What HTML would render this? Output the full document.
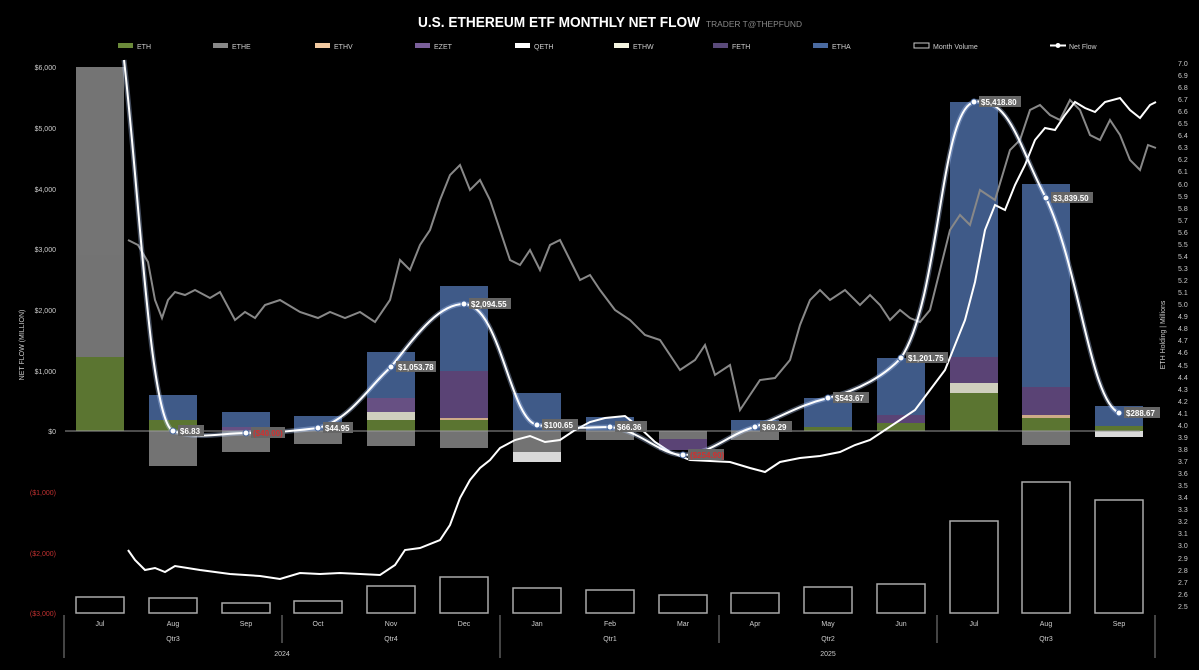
<!DOCTYPE html><html><head><style>body{margin:0;background:#000}svg{display:block;font-family:"Liberation Sans",sans-serif}</style></head><body>
<svg width="1199" height="670" viewBox="0 0 1199 670" xmlns="http://www.w3.org/2000/svg">
<rect width="1199" height="670" fill="#000"/>
<text x="418" y="27" fill="#fff" font-size="15" font-weight="bold" textLength="282" lengthAdjust="spacingAndGlyphs">U.S. ETHEREUM ETF MONTHLY NET FLOW</text>
<text x="706" y="27" fill="#888" font-size="8" textLength="96" lengthAdjust="spacingAndGlyphs">TRADER T@THEPFUND</text>
<g font-size="7" fill="#ccc">
<rect x="118" y="43" width="15" height="5" fill="#6b8a3a"/><text x="137" y="49">ETH</text>
<rect x="213" y="43" width="15" height="5" fill="#888"/><text x="232" y="49">ETHE</text>
<rect x="315" y="43" width="15" height="5" fill="#f2c9a0"/><text x="334" y="49">ETHV</text>
<rect x="415" y="43" width="15" height="5" fill="#7a5f9a"/><text x="434" y="49">EZET</text>
<rect x="515" y="43" width="15" height="5" fill="#fff"/><text x="534" y="49">QETH</text>
<rect x="614" y="43" width="15" height="5" fill="#f4f4e0"/><text x="633" y="49">ETHW</text>
<rect x="713" y="43" width="15" height="5" fill="#5a4a7a"/><text x="732" y="49">FETH</text>
<rect x="813" y="43" width="15" height="5" fill="#4a6aa0"/><text x="832" y="49">ETHA</text>
<rect x="914" y="43" width="15" height="5" fill="none" stroke="#ccc"/><text x="933" y="49">Month Volume</text>
<line x1="1050" y1="45.5" x2="1066" y2="45.5" stroke="#fff" stroke-width="2"/><circle cx="1058" cy="45.5" r="2.5" fill="#fff"/><text x="1069" y="49">Net Flow</text>
</g>
<g font-size="7" fill="#ccc" text-anchor="end">
<text x="56" y="70">$6,000</text><text x="56" y="131">$5,000</text><text x="56" y="192">$4,000</text><text x="56" y="252">$3,000</text><text x="56" y="313">$2,000</text><text x="56" y="374">$1,000</text><text x="56" y="434">$0</text>
<g fill="#c03030"><text x="56" y="495">($1,000)</text><text x="56" y="556">($2,000)</text><text x="56" y="616">($3,000)</text></g>
</g>
<text transform="translate(24,345) rotate(-90)" fill="#ccc" font-size="7" text-anchor="middle">NET FLOW (MILLION)</text>
<text transform="translate(1165,335) rotate(-90)" fill="#ccc" font-size="7" text-anchor="middle">ETH Holding | Millions</text>
<g font-size="7" fill="#ccc">
<text x="1178" y="66">7.0</text><text x="1178" y="78">6.9</text><text x="1178" y="90">6.8</text><text x="1178" y="102">6.7</text><text x="1178" y="114">6.6</text><text x="1178" y="126">6.5</text><text x="1178" y="138">6.4</text><text x="1178" y="150">6.3</text><text x="1178" y="162">6.2</text><text x="1178" y="174">6.1</text><text x="1178" y="187">6.0</text><text x="1178" y="199">5.9</text><text x="1178" y="211">5.8</text><text x="1178" y="223">5.7</text><text x="1178" y="235">5.6</text><text x="1178" y="247">5.5</text><text x="1178" y="259">5.4</text><text x="1178" y="271">5.3</text><text x="1178" y="283">5.2</text><text x="1178" y="295">5.1</text><text x="1178" y="307">5.0</text><text x="1178" y="319">4.9</text><text x="1178" y="331">4.8</text><text x="1178" y="343">4.7</text><text x="1178" y="355">4.6</text><text x="1178" y="368">4.5</text><text x="1178" y="380">4.4</text><text x="1178" y="392">4.3</text><text x="1178" y="404">4.2</text><text x="1178" y="416">4.1</text><text x="1178" y="428">4.0</text><text x="1178" y="440">3.9</text><text x="1178" y="452">3.8</text><text x="1178" y="464">3.7</text><text x="1178" y="476">3.6</text><text x="1178" y="488">3.5</text><text x="1178" y="500">3.4</text><text x="1178" y="512">3.3</text><text x="1178" y="524">3.2</text><text x="1178" y="536">3.1</text><text x="1178" y="548">3.0</text><text x="1178" y="561">2.9</text><text x="1178" y="573">2.8</text><text x="1178" y="585">2.7</text><text x="1178" y="597">2.6</text><text x="1178" y="609">2.5</text>
</g>
<g opacity="0.85">
<rect x="76" y="357" width="48" height="74" fill="#6b8a3a"/><rect x="76" y="67" width="48" height="290" fill="#888"/>
<rect x="149" y="395" width="48" height="25" fill="#4a6aa0"/><rect x="149" y="420" width="48" height="11" fill="#6b8a3a"/><rect x="149" y="431" width="48" height="35" fill="#888"/>
<rect x="222" y="412" width="48" height="15" fill="#4a6aa0"/><rect x="222" y="427" width="48" height="4" fill="#7a5f9a"/><rect x="222" y="431" width="48" height="21" fill="#888"/>
<rect x="294" y="416" width="48" height="15" fill="#4a6aa0"/><rect x="294" y="431" width="48" height="13" fill="#888"/>
<rect x="367" y="352" width="48" height="46" fill="#4a6aa0"/><rect x="367" y="398" width="48" height="14" fill="#7a5f9a"/><rect x="367" y="412" width="48" height="8" fill="#f4f4e0"/><rect x="367" y="420" width="48" height="11" fill="#6b8a3a"/><rect x="367" y="431" width="48" height="15" fill="#888"/>
<rect x="440" y="286" width="48" height="85" fill="#4a6aa0"/><rect x="440" y="371" width="48" height="47" fill="#6a4f8a"/><rect x="440" y="418" width="48" height="2" fill="#f2c9a0"/><rect x="440" y="420" width="48" height="11" fill="#6b8a3a"/><rect x="440" y="431" width="48" height="17" fill="#888"/>
<rect x="513" y="393" width="48" height="38" fill="#4a6aa0"/><rect x="513" y="431" width="48" height="21" fill="#888"/><rect x="513" y="452" width="48" height="10" fill="#fff"/>
<rect x="586" y="417" width="48" height="14" fill="#4a6aa0"/><rect x="586" y="431" width="48" height="9" fill="#888"/>
<rect x="659" y="431" width="48" height="8" fill="#888"/><rect x="659" y="439" width="48" height="11" fill="#6a4f8a"/>
<rect x="731" y="420" width="48" height="11" fill="#4a6aa0"/><rect x="731" y="431" width="48" height="9" fill="#888"/>
<rect x="804" y="398" width="48" height="29" fill="#4a6aa0"/><rect x="804" y="427" width="48" height="4" fill="#6b8a3a"/>
<rect x="877" y="358" width="48" height="57" fill="#4a6aa0"/><rect x="877" y="415" width="48" height="8" fill="#6a4f8a"/><rect x="877" y="423" width="48" height="8" fill="#6b8a3a"/>
<rect x="950" y="102" width="48" height="255" fill="#4a6aa0"/><rect x="950" y="357" width="48" height="26" fill="#6a4f8a"/><rect x="950" y="383" width="48" height="10" fill="#f4f4e0"/><rect x="950" y="393" width="48" height="38" fill="#6b8a3a"/>
<rect x="1022" y="184" width="48" height="203" fill="#4a6aa0"/><rect x="1022" y="387" width="48" height="28" fill="#6a4f8a"/><rect x="1022" y="415" width="48" height="3" fill="#f2c9a0"/><rect x="1022" y="418" width="48" height="13" fill="#6b8a3a"/><rect x="1022" y="431" width="48" height="14" fill="#888"/>
<rect x="1095" y="406" width="48" height="20" fill="#4a6aa0"/><rect x="1095" y="426" width="48" height="5" fill="#6b8a3a"/><rect x="1095" y="431" width="48" height="6" fill="#fff"/>
</g>
<line x1="65" y1="431" x2="1140" y2="431" stroke="#999" stroke-width="1"/>
<g fill="none" stroke="#aaa" stroke-width="1.5">
<rect x="76" y="597" width="48" height="16"/><rect x="149" y="598" width="48" height="15"/><rect x="222" y="603" width="48" height="10"/><rect x="294" y="601" width="48" height="12"/><rect x="367" y="586" width="48" height="27"/><rect x="440" y="577" width="48" height="36"/><rect x="513" y="588" width="48" height="25"/><rect x="586" y="590" width="48" height="23"/><rect x="659" y="595" width="48" height="18"/><rect x="731" y="593" width="48" height="20"/><rect x="804" y="587" width="48" height="26"/><rect x="877" y="584" width="48" height="29"/><rect x="950" y="521" width="48" height="92"/><rect x="1022" y="482" width="48" height="131"/><rect x="1095" y="500" width="48" height="113"/>
</g>
<polyline fill="none" stroke="#888" stroke-width="2" points="128,240 138,245 148,262 155,300 162,318 168,300 175,292 185,295 195,290 210,298 220,292 235,320 245,312 255,318 265,305 280,300 300,312 318,318 330,312 345,318 360,312 375,322 390,300 400,260 410,270 420,245 430,230 440,200 450,175 460,165 470,190 480,180 490,200 500,230 510,260 520,265 530,250 540,270 550,245 560,240 570,260 580,280 590,275 600,290 615,310 630,320 645,335 660,340 680,370 695,360 705,345 715,375 730,365 740,410 750,395 760,380 775,378 790,360 800,325 810,300 820,290 830,300 845,290 860,305 870,295 880,305 890,320 900,310 910,318 920,322 930,310 940,270 950,230 960,215 970,225 980,190 995,200 1010,150 1020,140 1030,110 1040,105 1050,115 1060,120 1070,100 1080,110 1090,135 1100,140 1110,120 1120,135 1130,160 1140,170 1148,145 1156,148"/>
<polyline fill="none" stroke="#fff" stroke-width="2" points="128,550 135,560 145,570 155,568 165,572 175,566 200,570 230,574 260,576 280,579 300,573 320,574 340,573 360,574 380,575 395,565 405,550 420,548 440,540 450,525 460,498 470,480 480,468 490,460 500,448 515,440 530,436 545,442 560,440 575,430 590,422 605,418 625,416 640,428 655,442 670,452 690,460 710,461 730,462 750,468 765,472 780,462 800,458 820,456 840,452 855,445 870,440 885,430 900,420 915,410 930,390 945,370 955,345 965,320 975,282 985,230 995,205 1005,210 1015,185 1025,165 1035,140 1045,128 1055,130 1065,115 1075,102 1085,108 1095,112 1105,102 1120,98 1130,110 1140,118 1150,105 1156,102"/>
<path fill="none" stroke="#b8d0ff" stroke-width="5" opacity="0.35" d="M124,60 C140,200 150,420 173,431 C200,440 220,433 246,433 C280,433 300,430 318,428 C350,420 370,385 391,367 C420,330 440,304 464,304 C500,304 510,420 537,425 C570,430 590,427 610,427 C640,430 660,455 683,455 C710,455 730,433 755,427 C785,415 800,405 828,398 C860,390 885,375 901,358 C940,300 940,110 974,102 C1010,95 1020,150 1046,198 C1080,270 1090,400 1119,413"/>
<path fill="none" stroke="#fff" stroke-width="2" d="M124,60 C140,200 150,420 173,431 C200,440 220,433 246,433 C280,433 300,430 318,428 C350,420 370,385 391,367 C420,330 440,304 464,304 C500,304 510,420 537,425 C570,430 590,427 610,427 C640,430 660,455 683,455 C710,455 730,433 755,427 C785,415 800,405 828,398 C860,390 885,375 901,358 C940,300 940,110 974,102 C1010,95 1020,150 1046,198 C1080,270 1090,400 1119,413"/>
<g fill="#fff" stroke="#4a6aa0" stroke-width="1">
<circle cx="173" cy="431" r="3"/><circle cx="246" cy="433" r="3"/><circle cx="318" cy="428" r="3"/><circle cx="391" cy="367" r="3"/><circle cx="464" cy="304" r="3"/><circle cx="537" cy="425" r="3"/><circle cx="610" cy="427" r="3"/><circle cx="683" cy="455" r="3"/><circle cx="755" cy="427" r="3"/><circle cx="828" cy="398" r="3"/><circle cx="901" cy="358" r="3"/><circle cx="974" cy="102" r="3"/><circle cx="1046" cy="198" r="3"/><circle cx="1119" cy="413" r="3"/>
</g>
<g font-size="8" font-weight="bold" fill="#fff">
<g fill="#666"><rect x="178" y="425" width="26" height="11"/><rect x="251" y="427" width="34" height="11"/><rect x="323" y="422" width="30" height="11"/><rect x="396" y="361" width="40" height="11"/><rect x="469" y="298" width="42" height="11"/><rect x="542" y="419" width="36" height="11"/><rect x="615" y="421" width="32" height="11"/><rect x="688" y="449" width="36" height="11"/><rect x="760" y="421" width="32" height="11"/><rect x="833" y="392" width="36" height="11"/><rect x="906" y="352" width="42" height="11"/><rect x="979" y="96" width="42" height="11"/><rect x="1051" y="192" width="42" height="11"/><rect x="1124" y="407" width="36" height="11"/></g>
<text x="180" y="434">$6.83</text><text x="253" y="436" fill="#d03030">($40.00)</text><text x="325" y="431">$44.95</text><text x="398" y="370">$1,053.78</text><text x="471" y="307">$2,094.55</text><text x="544" y="428">$100.65</text><text x="617" y="430">$66.36</text><text x="690" y="458" fill="#d03030">($254.90)</text><text x="762" y="430">$69.29</text><text x="835" y="401">$543.67</text><text x="908" y="361">$1,201.75</text><text x="981" y="105">$5,418.80</text><text x="1053" y="201">$3,839.50</text><text x="1126" y="416">$288.67</text>
</g>
<g stroke="#888" stroke-width="1">
<line x1="64" y1="615" x2="64" y2="658"/><line x1="282" y1="615" x2="282" y2="643"/><line x1="500" y1="615" x2="500" y2="658"/><line x1="719" y1="615" x2="719" y2="643"/><line x1="937" y1="615" x2="937" y2="643"/><line x1="1155" y1="615" x2="1155" y2="658"/>
</g>
<g font-size="7" fill="#ccc" text-anchor="middle">
<text x="100" y="626">Jul</text><text x="173" y="626">Aug</text><text x="246" y="626">Sep</text><text x="318" y="626">Oct</text><text x="391" y="626">Nov</text><text x="464" y="626">Dec</text><text x="537" y="626">Jan</text><text x="610" y="626">Feb</text><text x="683" y="626">Mar</text><text x="755" y="626">Apr</text><text x="828" y="626">May</text><text x="901" y="626">Jun</text><text x="974" y="626">Jul</text><text x="1046" y="626">Aug</text><text x="1119" y="626">Sep</text>
<text x="173" y="641">Qtr3</text><text x="391" y="641">Qtr4</text><text x="610" y="641">Qtr1</text><text x="828" y="641">Qtr2</text><text x="1046" y="641">Qtr3</text>
<text x="282" y="656">2024</text><text x="828" y="656">2025</text>
</g>
</svg>
</body></html>
